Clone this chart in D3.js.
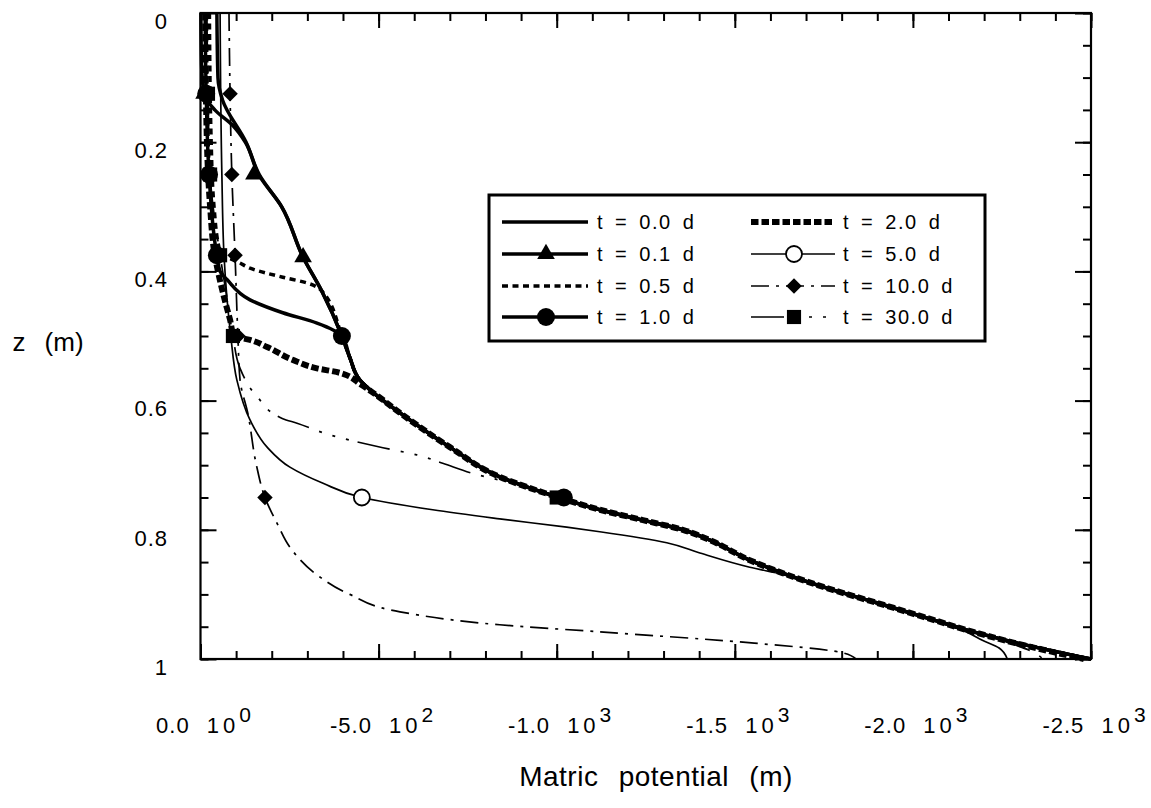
<!DOCTYPE html>
<html><head><meta charset="utf-8">
<script src="https://cdn.jsdelivr.net/npm/d3@7"></script>
<style>
body{margin:0;background:#fff}
text{font-family:"Liberation Sans",Arial,Helvetica,sans-serif;fill:#000}
</style>
</head><body>
<svg id="c" width="1151" height="808"></svg>
<script>
// ---------- DATA (z in m, matric potential psi in m) ----------
const xTickValues = [0, -500, -1000, -1500, -2000, -2500];
const xTickMantissa = ["0.0", "-5.0", "-1.0", "-1.5", "-2.0", "-2.5"];
const xTickExponent = ["0", "2", "3", "3", "3", "3"];
const yTickValues = [0, 0.2, 0.4, 0.6, 0.8, 1];
const yTickLabels = ["0", "0.2", "0.4", "0.6", "0.8", "1"];
const seriesNames = ["t = 0.0 d", "t = 0.1 d", "t = 0.5 d", "t = 1.0 d", "t = 2.0 d", "t = 5.0 d", "t = 10.0 d", "t = 30.0 d"];

// [z, psi]
const t00 = [[0,-46],[0.10,-49],[0.135,-62],[0.20,-128],[0.25,-165],[0.30,-228],[0.378,-288],[0.43,-340],[0.50,-397],[0.533,-419],[0.568,-447],[0.59,-490],[0.619,-560],[0.672,-700],[0.718,-840],[0.749,-1000],[0.769,-1121],[0.785,-1242],[0.80,-1354],[0.816,-1430],[0.847,-1542],[0.867,-1634],[0.893,-1775],[0.913,-1898],[0.939,-2055],[0.955,-2150],[0.975,-2291],[1.0,-2500]];
const t01 = [[0,-1],[0.08,-3],[0.125,-10],[0.15,-40],[0.175,-92],[0.20,-126],[0.25,-163],[0.30,-228],[0.378,-288],[0.43,-340],[0.50,-397],[0.533,-419],[0.568,-447],[0.59,-490],[0.619,-560],[0.672,-700],[0.718,-840],[0.749,-1000],[0.769,-1121],[0.785,-1242],[0.80,-1354],[0.816,-1430],[0.847,-1542],[0.867,-1634],[0.893,-1775],[0.913,-1898],[0.939,-2055],[0.955,-2150],[0.975,-2291],[1.0,-2500]];
const t05 = [[0,-25],[0.2,-30],[0.3,-38],[0.37,-55],[0.387,-111],[0.395,-139],[0.409,-231],[0.418,-300],[0.43,-340],[0.50,-397],[0.533,-419],[0.568,-447],[0.59,-490],[0.619,-560],[0.672,-700],[0.718,-840],[0.749,-1000],[0.769,-1121],[0.785,-1242],[0.80,-1354],[0.816,-1430],[0.847,-1542],[0.867,-1634],[0.893,-1775],[0.913,-1898],[0.939,-2055],[0.955,-2150],[0.975,-2291],[1.0,-2495]];
const t10 = [[0,-13],[0.125,-16],[0.25,-24],[0.375,-46],[0.40,-55],[0.413,-75],[0.444,-139],[0.464,-231],[0.48,-327],[0.50,-397],[0.533,-419],[0.568,-447],[0.59,-490],[0.619,-560],[0.672,-700],[0.718,-840],[0.749,-1000],[0.769,-1121],[0.785,-1242],[0.80,-1354],[0.816,-1430],[0.847,-1542],[0.867,-1634],[0.893,-1775],[0.913,-1898],[0.939,-2055],[0.955,-2150],[0.975,-2291],[1.0,-2500]];
const t20 = [[0,-13],[0.2,-18],[0.3,-27],[0.375,-40],[0.40,-49],[0.44,-66],[0.475,-83],[0.50,-94],[0.506,-139],[0.517,-187],[0.537,-259],[0.55,-327],[0.557,-391],[0.575,-450],[0.59,-490],[0.619,-560],[0.672,-700],[0.718,-840],[0.749,-1000],[0.769,-1121],[0.785,-1242],[0.80,-1354],[0.816,-1430],[0.847,-1542],[0.867,-1634],[0.893,-1775],[0.913,-1898],[0.939,-2055],[0.955,-2150],[0.975,-2285],[1.0,-2480]];
const t50 = [[0,-55],[0.25,-60],[0.375,-66],[0.50,-85],[0.568,-102],[0.63,-139],[0.672,-187],[0.703,-251],[0.728,-344],[0.75,-453],[0.769,-652],[0.783,-840],[0.796,-1028],[0.803,-1121],[0.82,-1309],[0.836,-1402],[0.858,-1542],[0.869,-1634],[0.893,-1775],[0.913,-1898],[0.939,-2055],[0.958,-2150],[0.971,-2195],[0.983,-2242],[1.0,-2265]];
const t100 = [[0,-80],[0.125,-83],[0.25,-88],[0.375,-97],[0.50,-105],[0.568,-111],[0.62,-133],[0.70,-157],[0.75,-181],[0.79,-215],[0.83,-255],[0.873,-335],[0.90,-419],[0.927,-560],[0.947,-840],[0.958,-1121],[0.974,-1523],[0.99,-1800],[1.0,-1840]];
const t300 = [[0,-18],[0.125,-21],[0.25,-27],[0.375,-55],[0.45,-77],[0.50,-91],[0.55,-111],[0.594,-159],[0.628,-231],[0.635,-271],[0.653,-363],[0.673,-512],[0.684,-607],[0.697,-680],[0.712,-760],[0.73,-890],[0.749,-1000],[0.769,-1121],[0.785,-1242],[0.80,-1354],[0.816,-1430],[0.847,-1542],[0.867,-1634],[0.893,-1775],[0.913,-1898],[0.939,-2055],[0.955,-2150],[0.975,-2270],[0.99,-2340],[1.0,-2365]];

// marker positions [z, psi]
const markT01 = [[0.125,-10],[0.25,-150],[0.378,-288]];
const markT10 = [[0.125,-16],[0.25,-24],[0.375,-46],[0.50,-397],[0.75,-1020]];
const markT50 = [[0.75,-453]];
const markT100 = [[0.125,-83],[0.25,-88],[0.375,-97],[0.50,-105],[0.75,-181]];
const markT300 = [[0.125,-21],[0.25,-27],[0.375,-55],[0.50,-91],[0.75,-1000]];

// ---------- STYLES ----------
const seriesData = [t00, t01, t05, t10, t20, t50, t100, t300];
const seriesMarks = [null, markT01, null, markT10, null, markT50, markT100, markT300];
const styles = [
  {w:3.5, dash:null, mk:null},
  {w:3.5, dash:null, mk:"tri"},
  {w:3.5, dash:"6,4.5", mk:null},
  {w:3.5, dash:null, mk:"circ"},
  {w:6, dash:"7.5,3", mk:null},
  {w:1.7, dash:null, mk:"ocirc"},
  {w:1.7, dash:"18,7,3,7", mk:"diam"},
  {w:1.7, dash:"33,11,3,11,3,11,3,9", mk:"sq"}
];

const svg = d3.select("#c");
const L = 200.5, R = 1091, T = 13, B = 659;
const x = d3.scaleLinear().domain([0, -2500]).range([L, R]);
const y = d3.scaleLinear().domain([0, 1]).range([T, B]);

// ---------- AXES / FRAME ----------
const minorX = d3.range(0, -2501, -100);
const minorY = d3.range(0, 1.0001, 0.05);
function tickAxis(axis, tr, vals, size){
  const g = svg.append("g").attr("transform", tr)
    .call(axis.tickValues(vals).tickSize(-size).tickFormat(""));
  g.select(".domain").remove();
  g.selectAll("line").attr("stroke", "#000").attr("stroke-width", 2);
}
tickAxis(d3.axisBottom(x), `translate(0,${B})`, minorX, 8);
tickAxis(d3.axisBottom(x), `translate(0,${B})`, xTickValues, 15);
tickAxis(d3.axisTop(x), `translate(0,${T})`, minorX, 8);
tickAxis(d3.axisTop(x), `translate(0,${T})`, xTickValues, 15);
tickAxis(d3.axisLeft(y), `translate(${L},0)`, minorY, 8);
tickAxis(d3.axisLeft(y), `translate(${L},0)`, yTickValues, 16);
tickAxis(d3.axisRight(y), `translate(${R},0)`, minorY, 8);
tickAxis(d3.axisRight(y), `translate(${R},0)`, yTickValues, 16);

svg.append("rect").attr("x", L).attr("y", T).attr("width", R - L).attr("height", B - T)
  .attr("fill", "none").attr("stroke", "#000").attr("stroke-width", 2.2);

// y tick labels
svg.append("g").selectAll("text").data(yTickValues).join("text")
  .attr("x", 168).attr("y", d => y(d) + 8).attr("dy", "0.35em")
  .attr("text-anchor", "end").attr("font-size", 22).attr("letter-spacing", 1)
  .text((d, i) => yTickLabels[i]);

// x tick labels
const xl = svg.append("g").selectAll("text").data(xTickValues).join("text")
  .attr("x", d => x(d) + 3).attr("y", 733)
  .attr("text-anchor", "middle").attr("font-size", 22).attr("word-spacing", 10);
xl.append("tspan").attr("letter-spacing", 1).text((d, i) => xTickMantissa[i] + " ");
xl.append("tspan").attr("letter-spacing", 4).text("10");
xl.append("tspan").attr("dy", -11).attr("font-size", 21).text((d, i) => xTickExponent[i]);

// axis titles
svg.append("text").attr("x", 48).attr("y", 351).attr("text-anchor", "middle")
  .attr("font-size", 26).attr("word-spacing", 12).text("z (m)");
svg.append("text").attr("x", 656).attr("y", 786).attr("text-anchor", "middle")
  .attr("font-size", 28).attr("word-spacing", 12).attr("letter-spacing", 0.5).text("Matric potential (m)");

// ---------- LINES ----------
const line = d3.line().x(d => x(d[1])).y(d => y(d[0])).curve(d3.curveMonotoneY);
const order = [7, 6, 5, 4, 2, 3, 1, 0];
const plot = svg.append("g");
order.forEach(i => {
  const s = styles[i];
  plot.append("path").datum(seriesData[i]).attr("d", line)
    .attr("fill", "none").attr("stroke", "#000").attr("stroke-width", s.w)
    .attr("stroke-dasharray", s.dash).attr("stroke-linejoin", "round");
});

// ---------- MARKERS ----------
function marker(g, type, cx, cy){
  if (type === "tri") g.append("path").attr("d", d3.symbol(d3.symbolTriangle, 135)()).attr("transform", `translate(${cx},${cy})`).attr("fill", "#000");
  else if (type === "circ") g.append("circle").attr("cx", cx).attr("cy", cy).attr("r", 9).attr("fill", "#000");
  else if (type === "ocirc") g.append("circle").attr("cx", cx).attr("cy", cy).attr("r", 8).attr("fill", "#fff").attr("stroke", "#000").attr("stroke-width", 1.8);
  else if (type === "diam") g.append("path").attr("d", d3.symbol(d3.symbolSquare, 120)()).attr("transform", `translate(${cx},${cy}) rotate(45)`).attr("fill", "#000");
  else if (type === "sq") g.append("path").attr("d", d3.symbol(d3.symbolSquare, 200)()).attr("transform", `translate(${cx},${cy})`).attr("fill", "#000");
}
const mg = svg.append("g");
seriesMarks.forEach((m, i) => {
  if (!m) return;
  m.forEach(p => marker(mg, styles[i].mk, x(p[1]), y(p[0])));
});

// ---------- LEGEND ----------
const lg = svg.append("g");
lg.append("rect").attr("x", 489).attr("y", 195).attr("width", 496).attr("height", 146)
  .attr("fill", "#fff").attr("stroke", "#000").attr("stroke-width", 3);
const rowsY = [222, 254, 286, 317];
const cols = [{x0: 502, x1: 588, tx: 597}, {x0: 751, x1: 835, tx: 843}];
seriesNames.forEach((name, i) => {
  const c = cols[Math.floor(i / 4)], ry = rowsY[i % 4], s = styles[i];
  lg.append("line").attr("x1", c.x0).attr("x2", c.x1).attr("y1", ry).attr("y2", ry)
    .attr("stroke", "#000").attr("stroke-width", s.w).attr("stroke-dasharray", s.dash);
  if (s.mk) marker(lg, s.mk, (c.x0 + c.x1) / 2 + 1, ry);
  lg.append("text").attr("x", c.tx).attr("y", ry).attr("dy", "0.36em")
    .attr("font-size", 20).attr("letter-spacing", 1.5).attr("word-spacing", 4).text(name);
});
</script>
</body></html>
